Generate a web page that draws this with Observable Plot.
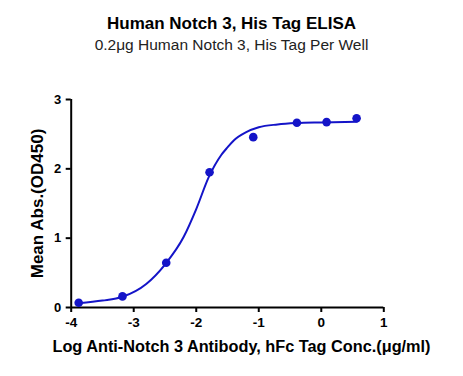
<!DOCTYPE html>
<html>
<head>
<meta charset="utf-8">
<script src="https://cdn.jsdelivr.net/npm/d3@7"></script>
<script src="https://cdn.jsdelivr.net/npm/@observablehq/plot@0.6"></script>
<style>
  html, body { margin: 0; padding: 0; background: #fff; }
  body { width: 463px; height: 376px; overflow: hidden; font-family: "Liberation Sans", Arial, sans-serif; }
  #title { text-align: center; font-weight: bold; font-size: 17px; color: #000; height: 22px; padding-top: 13px; line-height: 22px; }
  #subtitle { text-align: center; font-size: 15.5px; color: #222; height: 20px; line-height: 20px; }
  #chart { margin-top: 5px; }
  #chart svg { display: block; }
</style>
</head>
<body>
<div id="title">Human Notch 3, His Tag ELISA</div>
<div id="subtitle">0.2μg Human Notch 3, His Tag Per Well</div>
<div id="chart"></div>
<script>
// Measured points (log concentration, OD450)
const logConc = [-3.88, -3.18, -2.48, -1.787, -1.088, -0.39, 0.085, 0.565];
const od450   = [0.068, 0.16, 0.645, 1.95, 2.457, 2.665, 2.674, 2.73];

// Fitted curve
const curveX = [-3.88, -3.5, -3.18, -2.8, -2.5, -2.2, -2.0, -1.8, -1.6, -1.5, -1.4, -1.2, -1.0, -0.7, -0.4, 0.0, 0.57];
const curveY = [0.062, 0.10, 0.155, 0.34, 0.62, 1.02, 1.42, 1.88, 2.2, 2.31, 2.41, 2.53, 2.60, 2.64, 2.66, 2.67, 2.68];

const xTicks = [-4, -3, -2, -1, 0, 1];
const yTicks = [0, 1, 2, 3];
const xLabel = "Log Anti-Notch 3 Antibody, hFc Tag Conc.(μg/ml)";
const yLabel = "Mean Abs.(OD450)";

const points = logConc.map((x, i) => ({x, y: od450[i]}));
const curve = curveX.map((x, i) => ({x, y: curveY[i]}));
const blue = "#1414c8";

const plot = Plot.plot({
  width: 463,
  height: 316,
  marginTop: 39,
  marginBottom: 69,
  marginLeft: 70.7,
  marginRight: 79.7,
  style: { fontFamily: "'Liberation Sans', Arial, sans-serif", background: "#fff" },
  x: { domain: [-4, 1] },
  y: { domain: [0, 3] },
  marks: [
    Plot.axisX({ ticks: xTicks, tickSize: 5, strokeWidth: 2, tickPadding: 5, fontSize: 13.5, fontWeight: "bold", fill: "#000", label: null, tickFormat: d => d < 0 ? "-" + Math.abs(d) : String(d) }),
    Plot.axisY({ ticks: yTicks, tickSize: 5, strokeWidth: 2, tickPadding: 5, fontSize: 13, fontWeight: "bold", fill: "#000", label: null, tickFormat: d => String(d) }),
    Plot.ruleY([0], { x1: -4, x2: 1, stroke: "#000", strokeWidth: 2 }),
    Plot.ruleX([-4], { y1: 0, y2: 3, stroke: "#000", strokeWidth: 2 }),
    Plot.line(curve, { x: "x", y: "y", curve: "monotone-x", stroke: blue, strokeWidth: 2 }),
    Plot.dot(points, { x: "x", y: "y", r: 4.3, fill: blue, stroke: null }),
    Plot.text([xLabel], { frameAnchor: "bottom", dx: 14, dy: 39, fontSize: 16.3, fontWeight: "bold", fill: "#000", lineAnchor: "middle", textAnchor: "middle" }),
    Plot.text([yLabel], { frameAnchor: "left", dx: -34, rotate: -90, fontSize: 17, fontWeight: "bold", fill: "#000", lineAnchor: "middle", textAnchor: "middle" })
  ]
});
document.getElementById("chart").appendChild(plot);
</script>
</body>
</html>
